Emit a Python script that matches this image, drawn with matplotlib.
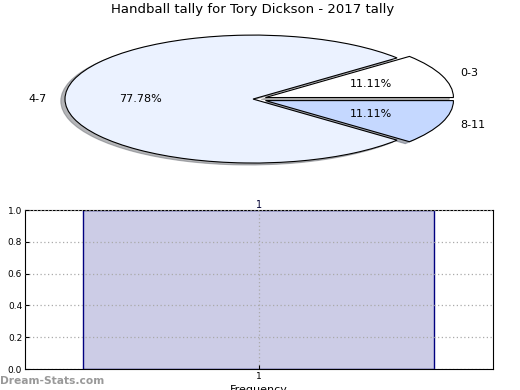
import matplotlib
matplotlib.use("Agg")
from matplotlib import pyplot as plt

# pie data
pie_labels = ["0-3", "4-7", "8-11"]
pie_values = [1, 7, 1]
pie_colors = ["#ffffff", "#ebf2ff", "#c5d8ff"]
pie_explode = [0.07, 0.0, 0.07]

# bar data
bar_x = [1]
bar_heights = [1]
bar_tick_labels = ["1"]

fig = plt.figure(figsize=(5.2, 3.9), dpi=100)

# top: pie chart (elliptical, not equal aspect)
ax1 = fig.add_axes([0.0346, 0.541, 0.904, 0.410])
wedges, texts, autotexts = ax1.pie(
    pie_values, labels=pie_labels, colors=pie_colors, explode=pie_explode,
    autopct="%1.2f%%", shadow={"ox": -0.016, "oy": -0.022, "shade": 0.55},
    startangle=0,
    wedgeprops={"edgecolor": "black", "linewidth": 0.8},
    textprops={"fontsize": 8})
ax1.set_aspect("auto")
ax1.set_xlim(-1.25, 1.25)
ax1.set_ylim(-1.25, 1.25)
fig.text(0.4865, 1 - 10 / 390, "Handball tally for Tory Dickson - 2017 tally",
         fontsize=9.5, ha="center", va="center")

# bottom: bar chart
ax2 = fig.add_axes([0.048, 0.0538, 0.9, 0.4077])
bars = ax2.bar(bar_x, bar_heights, width=0.75, color="#ccccE6",
               edgecolor="#000080", linewidth=1.0, zorder=2)
for b, h in zip(bars, bar_heights):
    ax2.text(b.get_x() + b.get_width() / 2, h, str(h), ha="center", va="bottom",
             fontsize=7, color="#000033")
ax2.set_xlim(0.5, 1.5)
ax2.set_ylim(0, 1.0)
ax2.set_xticks(bar_x)
ax2.set_xticklabels(bar_tick_labels)
ax2.set_yticks([0.0, 0.2, 0.4, 0.6, 0.8, 1.0])
ax2.tick_params(axis="both", direction="in", labelsize=6.5, length=3, pad=2)
ax2.grid(True, linestyle=(0, (1, 2)), color="#aaaaaa", linewidth=0.9, zorder=3)
ax2.set_axisbelow(False)
ax2.set_ylabel("Stat Intervals", fontsize=8, labelpad=4)
ax2.set_xlabel("Frequency", fontsize=8, labelpad=3)

fig.text(0.0, 0.01, "Dream-Stats.com", fontsize=7.7, color="#999999",
         fontweight="bold", ha="left", va="bottom")

fig.savefig("out.png", dpi=100)
